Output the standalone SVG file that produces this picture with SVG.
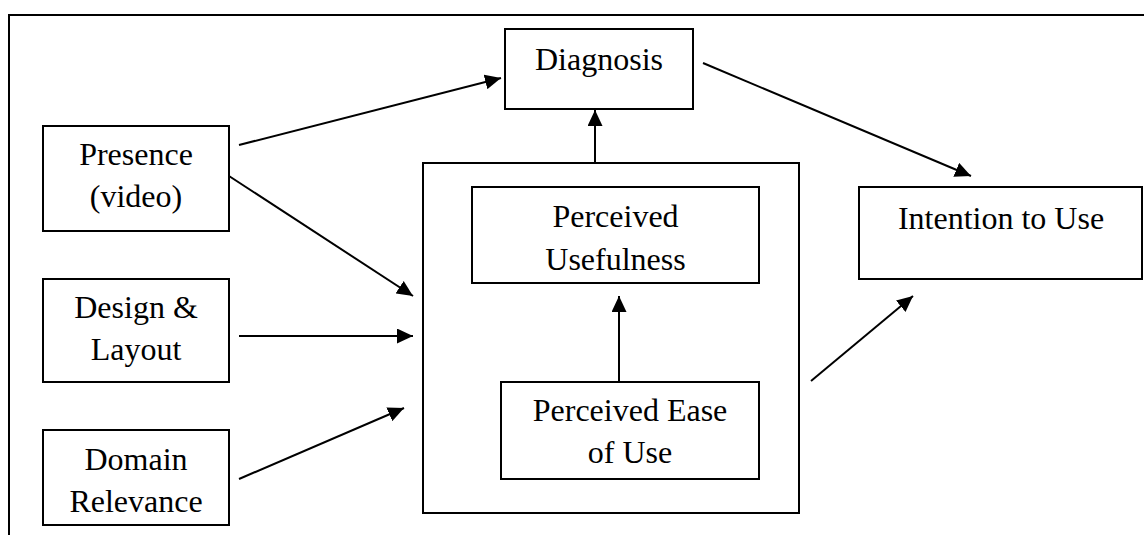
<svg xmlns="http://www.w3.org/2000/svg" width="1144" height="535" viewBox="0 0 1144 535">
<style>
.box{fill:#fff;stroke:#000;stroke-width:2}
.frame{fill:none;stroke:#000;stroke-width:2}
.lbl{font-family:"Liberation Serif","Times New Roman",serif;font-size:32px;fill:#000;text-anchor:middle}
.conn line{stroke:#000;stroke-width:2;marker-end:url(#ah)}
</style>
<defs>
<marker id="ah" markerUnits="userSpaceOnUse" markerWidth="16" markerHeight="15" refX="16" refY="7.5" orient="auto">
<path d="M0,0 L16,7.5 L0,15 z" fill="#000"/>
</marker>
</defs>
<rect width="1144" height="535" fill="#fff"/>
<path class="frame" d="M9,535 V15 H1144"/>
<g id="tam-container"><rect class="box" x="423" y="163" width="376" height="350"/></g>
<g id="presence"><rect class="box" x="43" y="126" width="186" height="105"/><text class="lbl" x="136" y="165">Presence</text><text class="lbl" x="136" y="207">(video)</text></g>
<g id="design"><rect class="box" x="43" y="279" width="186" height="103"/><text class="lbl" x="136" y="318">Design &amp;</text><text class="lbl" x="136" y="360">Layout</text></g>
<g id="domain"><rect class="box" x="43" y="430" width="186" height="95"/><text class="lbl" x="136" y="470">Domain</text><text class="lbl" x="136" y="512">Relevance</text></g>
<g id="diagnosis"><rect class="box" x="505" y="29" width="188" height="80"/><text class="lbl" x="599" y="70">Diagnosis</text></g>
<g id="pu"><rect class="box" x="472" y="187" width="287" height="96"/><text class="lbl" x="615.5" y="227">Perceived</text><text class="lbl" x="615.5" y="270">Usefulness</text></g>
<g id="peou"><rect class="box" x="501" y="382" width="258" height="97"/><text class="lbl" x="630" y="421">Perceived Ease</text><text class="lbl" x="630" y="463">of Use</text></g>
<g id="intention"><rect class="box" x="859" y="187" width="283" height="92"/><text class="lbl" x="1001" y="229">Intention to Use</text></g>
<g class="conn" id="connectors">
<line x1="239" y1="145" x2="501" y2="78"/>
<line x1="229" y1="176" x2="413" y2="296"/>
<line x1="239" y1="336" x2="413" y2="336"/>
<line x1="239" y1="479" x2="404" y2="408"/>
<line x1="595" y1="163" x2="595" y2="110"/>
<line x1="619" y1="382" x2="619" y2="296"/>
<line x1="703" y1="63" x2="971" y2="176"/>
<line x1="811" y1="381" x2="913" y2="296"/>
</g>
</svg>
